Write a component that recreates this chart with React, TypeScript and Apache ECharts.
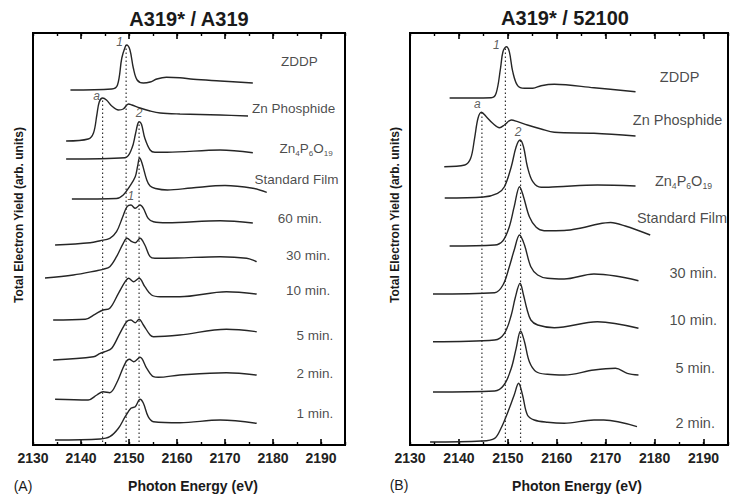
import React, { useEffect, useRef } from 'react';
import * as echarts from 'echarts';

// ---------- DATA: [photon energy (eV), yield above pre-edge (arb. units)] ----------
// Panel A: A319* / A319
const zddpA = [[2137.8,0],[2146.4,1],[2147.6,5],[2148.5,32],[2149.2,43],[2149.5,45],[2150.2,40],[2150.9,22],[2151.7,10],[2153.0,7],[2154.4,8],[2155.8,11],[2157.8,12.7],[2160.6,12.3],[2163.4,10.7],[2169.0,9],[2175.8,7]];
const znPhosA = [[2136.9,-1],[2141.5,1],[2142.6,7],[2143.3,25],[2143.8,38],[2144.5,42],[2145.3,40],[2146.4,34],[2147.8,30],[2148.8,31],[2149.9,36],[2150.6,35],[2152.3,32],[2154.4,29],[2156.5,27],[2160.6,26],[2169.0,25],[2174.8,24]];
const zn4A = [[2136.9,0],[2149.2,1.3],[2150.6,10.7],[2151.3,24],[2151.8,34.7],[2152.1,37.3],[2152.6,34.7],[2153.3,20.7],[2154.4,9],[2155.4,6.7],[2157.9,6.7],[2169.0,9],[2175.8,6.3]];
const stdFilmA = [[2138.1,0],[2147.4,0.5],[2148.8,4],[2150.1,12.3],[2151.3,22.3],[2151.8,33],[2152.2,41],[2152.7,36],[2153.7,19],[2154.4,13],[2155.5,10.5],[2158.0,9],[2163.0,11],[2170.0,13.5],[2175.8,10.7],[2178.7,6.7]];
const min60A = [[2134.6,0],[2141.9,2.3],[2144.0,4.3],[2146.0,6.7],[2147.4,13.3],[2148.7,28.3],[2149.6,38.3],[2150.4,40],[2151.3,36.7],[2152.3,40],[2153.0,36.7],[2154.0,26.7],[2155.1,23.3],[2157.9,22.3],[2169.0,24.3],[2175.8,22]];
const min30A = [[2132.5,0],[2138.4,3],[2143.3,7.3],[2144.6,8.7],[2146.0,11.3],[2147.4,21.3],[2148.8,34.7],[2149.6,39.7],[2150.6,36.3],[2151.3,35.3],[2152.3,39.7],[2153.3,33],[2154.4,21.3],[2155.4,19.7],[2160.0,20],[2169.0,21.3],[2174.5,19.7],[2176.6,16.3]];
const min10A = [[2134.2,0],[2140.9,0.7],[2142.9,5.7],[2144.6,10],[2146.0,11.7],[2147.8,26.7],[2149.2,38.3],[2149.9,41.7],[2151.0,38.3],[2152.1,41.7],[2153.3,33.3],[2154.7,25],[2156.5,23.3],[2160.6,23.3],[2170.3,28.3],[2176.6,26]];
const min5A = [[2134.2,0],[2142.6,3.3],[2144.0,6.7],[2145.0,8.3],[2146.4,11.7],[2148.1,26.7],[2149.5,38.3],[2150.4,40],[2151.3,37.3],[2152.1,40.7],[2153.0,35],[2154.4,25],[2155.1,23.3],[2160.6,25],[2170.3,30.7],[2176.6,28.3]];
const min2A = [[2134.6,0.7],[2141.5,0],[2143.3,5],[2144.6,8.3],[2146.0,7.3],[2147.4,16.7],[2149.2,36.7],[2150.1,40.7],[2151.0,38.3],[2152.3,42.7],[2153.7,31.7],[2155.1,23.3],[2156.1,22.7],[2160.6,25],[2170.3,27.3],[2176.6,25]];
const min1A = [[2134.6,0],[2144.0,1],[2146.0,3.3],[2147.8,11.7],[2149.2,23.3],[2150.4,31.7],[2151.3,33.3],[2152.3,40.7],[2153.0,36.7],[2154.0,23.3],[2155.1,18.3],[2160.6,17.3],[2169.0,20],[2176.6,16.7]];

const curvesA = [zddpA, znPhosA, zn4A, stdFilmA, min60A, min30A, min10A, min5A, min2A, min1A];
const offsetsA = [355, 305, 286, 246, 200, 167, 125, 85, 45, 5];
const namesA = ['ZDDP', 'Zn Phosphide', 'Zn4P6O19', 'Standard Film', '60 min.', '30 min.', '10 min.', '5 min.', '2 min.', '1 min.'];

// Panel B: A319* / 52100
const zddpB = [[2138.1,0],[2146.6,0.3],[2147.6,4.7],[2148.5,29.7],[2149.0,46.3],[2149.7,51.3],[2150.3,46.3],[2151.0,26.3],[2152.0,12.3],[2153.4,9.7],[2155.1,9.7],[2156.8,12.3],[2159.5,13.7],[2167.6,10.3],[2176.1,6.3]];
const znPhosB = [[2137.0,0.3],[2141.2,2],[2142.4,8.7],[2143.2,28.7],[2143.9,48.7],[2144.6,54.7],[2145.6,50.3],[2146.9,43.7],[2148.3,39.3],[2149.3,42],[2150.7,47],[2152.0,45.3],[2154.0,42],[2156.8,38],[2159.5,34.7],[2167.6,33.7],[2176.1,31]];
const zn4B = [[2137.1,0],[2145.0,1],[2147.9,4.7],[2149.3,11.3],[2150.7,31.3],[2151.7,51.3],[2152.5,58],[2153.2,51.3],[2154.0,31.3],[2155.1,16.3],[2156.8,10.7],[2160.1,11.3],[2168.3,13],[2176.1,12]];
const stdFilmB = [[2138.1,0],[2147.3,1],[2149.0,5.3],[2150.3,19.3],[2151.3,39.3],[2152.4,59.3],[2153.2,49.3],[2154.4,29.3],[2155.8,18.7],[2157.4,15.3],[2161.5,15.5],[2165.0,18],[2168.5,22],[2171.0,23.5],[2174.0,20],[2179.1,11]];
const min30B = [[2134.7,0],[2147.3,1.3],[2149.0,9],[2150.3,27.3],[2151.3,44],[2152.4,59],[2153.4,49],[2154.7,27.3],[2156.1,19],[2158.1,15.7],[2161.5,15],[2167.6,20],[2172.0,18],[2176.7,13.3]];
const min10B = [[2134.7,0.3],[2147.3,2],[2149.3,8.7],[2150.7,27],[2151.5,44],[2152.5,58.7],[2153.2,47],[2153.9,33],[2154.7,22],[2156.1,17],[2159.5,14.3],[2168.3,20.3],[2176.7,13.7]];
const min5B = [[2134.7,0],[2147.3,1],[2149.2,7],[2150.7,23.7],[2151.7,43.7],[2152.6,61],[2153.4,50.3],[2154.4,30.3],[2155.8,20.3],[2158.1,17.7],[2161.5,17],[2167.6,22],[2172.0,23.7],[2174.4,18.7],[2176.7,17]];
const min2B = [[2134.1,0],[2144.6,1],[2147.3,3.7],[2148.6,13.7],[2150.3,33.7],[2151.3,47],[2152.2,58.7],[2153.0,47],[2154.0,27],[2155.4,22],[2158.1,19.7],[2161.5,18.7],[2167.6,22],[2169.6,22],[2176.4,15.3]];

const curvesB = [zddpB, znPhosB, zn4B, stdFilmB, min30B, min10B, min5B, min2B];
const offsetsB = [347, 278, 247, 199, 151, 103, 53, 3];
const namesB = ['ZDDP', 'Zn Phosphide', 'Zn4P6O19', 'Standard Film', '30 min.', '10 min.', '5 min.', '2 min.'];

// Reference energies (dotted lines): a, 1, 2 and the curve whose peak they mark
const refEnergiesA = [2144.5, 2149.4, 2152.1];
const refEnergiesB = [2144.7, 2149.5, 2152.6];
const refCurveIdx = [1, 0, 2];
const refNames = ['a', '1', '2'];

const xTicks = [2130, 2140, 2150, 2160, 2170, 2180, 2190];

// ---------- LAYOUT (not data) ----------
const FONT = 'Liberation Sans, Arial, sans-serif';
const labelPosA = [[2185.5, 384], [2184.3, 337], [2186.9, 297], [2184.9, 266], [2185.6, 227], [2187.3, 190], [2187.3, 155], [2188.7, 110], [2188.7, 72], [2188.7, 32]];
const labelPosB = [[2185.1, 368], [2184.7, 325], [2185.9, 264], [2185.6, 227], [2187.9, 172], [2187.9, 125], [2188.3, 77], [2188.3, 22]];
const refLabelOffsetA = [[-6, -2], [-7, -3], [0, -9]];
const refLabelOffsetB = [[-4, -8], [-10, -2], [-2, -8]];

function richName(name: string) {
  if (/^[A-Z][a-z]?\d/.test(name)) {
    return name.replace(/([A-Za-z]+)(\d+)/g, '{n|$1}{s|$2}');
  }
  return name;
}

function peakOf(curve: number[][]) {
  let best = curve[0];
  curve.forEach((p) => { if (p[1] > best[1]) best = p; });
  return best;
}

function buildPanel(gi: number, curves: number[][][], offsets: number[], names: string[], labelPos: number[][], refE: number[], refOff: number[][], fs: number, extraLabels: any[]) {
  const xi = gi * 4;
  const series: any[] = [];
  curves.forEach((c, i) => {
    series.push({
      type: 'line', xAxisIndex: xi, yAxisIndex: gi, showSymbol: false, silent: true,
      smooth: 0.35, z: 3,
      lineStyle: { color: '#262626', width: 1.4 },
      data: c.map(([e, v]) => [e, v + offsets[i]]),
    });
  });
  // dotted reference lines
  refE.forEach((e, k) => {
    const ci = refCurveIdx[k];
    const top = peakOf(curves[ci])[1] + offsets[ci];
    series.push({
      type: 'line', xAxisIndex: xi, yAxisIndex: gi, showSymbol: false, silent: true, z: 2,
      lineStyle: { color: '#333', width: 1.2, type: [1.5, 2.5] },
      data: [[e, 3], [e, top]],
    });
  });
  // curve names
  series.push({
    type: 'scatter', xAxisIndex: xi, yAxisIndex: gi, symbolSize: 0, silent: true, z: 5,
    data: labelPos.map((p, i) => ({ value: p, name: names[i] })),
    label: {
      show: true, position: 'inside', color: '#1a1a1a', fontFamily: FONT, fontSize: fs,
      formatter: (p: any) => richName(p.name),
      rich: {
        n: { fontSize: fs, fontFamily: FONT, color: '#1a1a1a' },
        s: { fontSize: fs * 0.6, fontFamily: FONT, color: '#1a1a1a', padding: [fs * 0.75, 0, 0, 0] },
      },
    },
  });
  // peak labels a / 1 / 2
  const peakLabels = refE.map((e, k) => {
    const ci = refCurveIdx[k];
    const pk = peakOf(curves[ci]);
    return { value: [pk[0], pk[1] + offsets[ci]], name: refNames[k], label: { offset: refOff[k] } };
  }).concat(extraLabels);
  series.push({
    type: 'scatter', xAxisIndex: xi, yAxisIndex: gi, symbolSize: 0, silent: true, z: 5,
    data: peakLabels,
    label: { show: true, position: 'inside', formatter: '{b}', fontSize: 12, fontStyle: 'italic', color: '#333', fontFamily: FONT },
  });
  return series;
}

function xAxes(gi: number) {
  const base = {
    gridIndex: gi, type: 'value', min: 2130, max: 2195,
    axisLine: { show: false }, splitLine: { show: false },
  };
  const major = {
    ...base, interval: 10,
    axisTick: { show: true, inside: true, length: 6, lineStyle: { color: '#000', width: 1.6 } },
  };
  const minor = {
    ...base, interval: 5,
    axisTick: { show: true, inside: true, length: 3, lineStyle: { color: '#000', width: 1.4 } },
    axisLabel: { show: false },
  };
  return [
    {
      ...major, position: 'bottom',
      axisLabel: {
        show: true, margin: 6, fontSize: 14, fontWeight: 'bold', color: '#222', fontFamily: FONT,
        formatter: (v: number) => (xTicks.indexOf(v) >= 0 ? String(v) : ''),
      },
    },
    { ...minor, position: 'bottom' },
    { ...major, position: 'top', axisLabel: { show: false } },
    { ...minor, position: 'top' },
  ];
}

export default function App() {
  const ref = useRef<HTMLDivElement>(null);
  useEffect(() => {
    if (!ref.current) return;
    const chart = echarts.init(ref.current, undefined, { renderer: 'svg' });
    const min60Peak = peakOf(min60A);
    const seriesA = buildPanel(0, curvesA, offsetsA, namesA, labelPosA, refEnergiesA, refLabelOffsetA, 13.5,
      [{ value: [min60Peak[0], min60Peak[1] + offsetsA[4]], name: '1', label: { offset: [0, -9] } }]);
    const seriesB = buildPanel(1, curvesB, offsetsB, namesB, labelPosB, refEnergiesB, refLabelOffsetB, 14.5, []);
    const txt = (text: string, x: number, y: number, font: string, rot = 0) => ({
      type: 'text', x, y, rotation: rot, silent: true,
      style: { text, font, fill: '#1a1a1a', textAlign: 'center', textVerticalAlign: 'middle' },
    });
    chart.setOption({
      animation: false,
      backgroundColor: '#fff',
      grid: [
        { left: 33, top: 33, width: 312, height: 412, show: true, borderColor: '#000', borderWidth: 2, backgroundColor: 'transparent' },
        { left: 410, top: 33, width: 319, height: 412, show: true, borderColor: '#000', borderWidth: 2, backgroundColor: 'transparent' },
      ],
      xAxis: [...xAxes(0), ...xAxes(1)],
      yAxis: [
        { gridIndex: 0, type: 'value', min: 0, max: 412, show: false },
        { gridIndex: 1, type: 'value', min: 0, max: 412, show: false },
      ],
      series: [...seriesA, ...seriesB],
      graphic: [
        txt('A319* / A319', 189, 19, `bold 20px ${FONT}`),
        txt('A319* / 52100', 565, 18, `bold 20px ${FONT}`),
        txt('Total Electron Yield (arb. units)', 19, 215, `bold 12px ${FONT}`, Math.PI / 2),
        txt('Total Electron Yield (arb. units)', 395, 215, `bold 12px ${FONT}`, Math.PI / 2),
        txt('Photon Energy (eV)', 193, 486, `bold 14px ${FONT}`),
        txt('Photon Energy (eV)', 577, 486, `bold 14px ${FONT}`),
        txt('(A)', 23, 486, `14px ${FONT}`),
        txt('(B)', 399, 485, `14px ${FONT}`),
      ],
    });
    return () => chart.dispose();
  }, []);
  return <div ref={ref} style={{ position: 'fixed', left: 0, top: 0, width: 731, height: 502, background: '#fff' }} />;
}
